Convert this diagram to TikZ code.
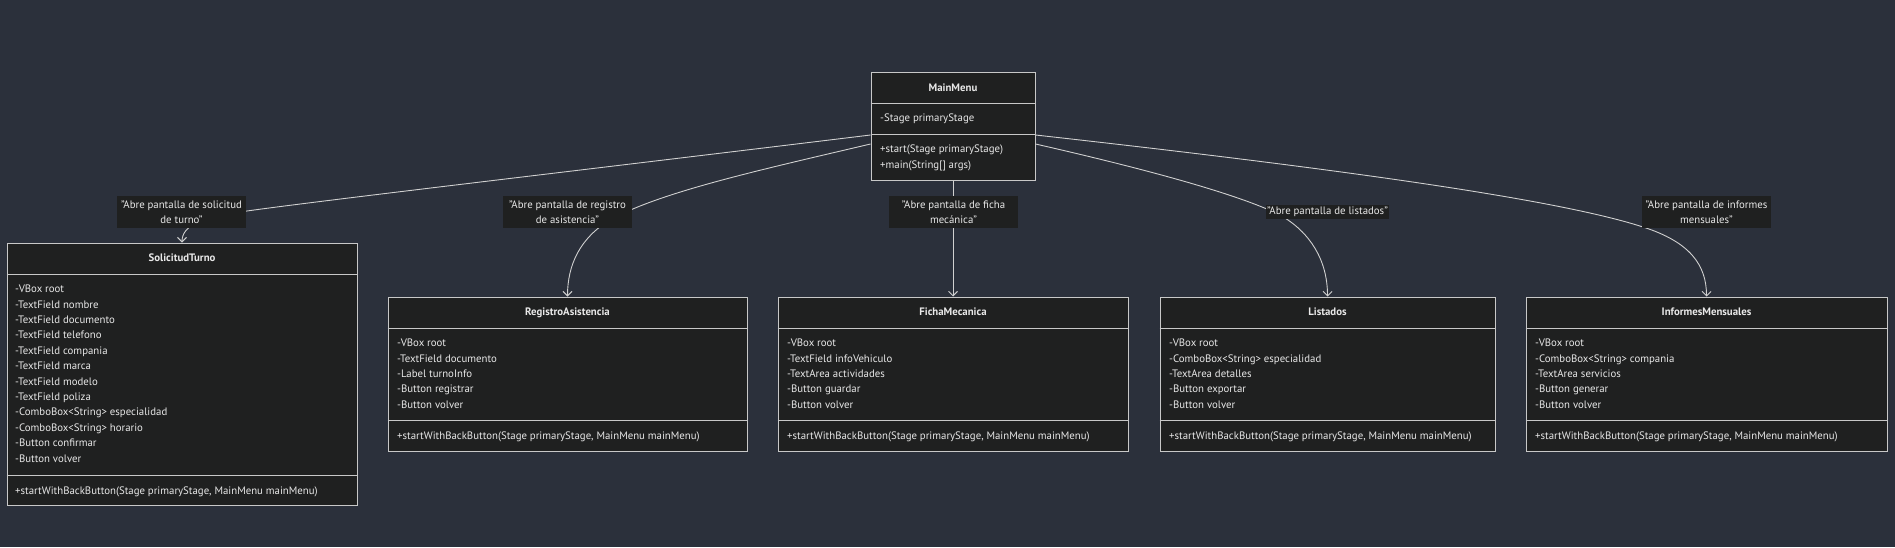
\documentclass[tikz,border=0pt]{standalone}
\usepackage{fontspec}
\setmainfont{PT Sans}
\usetikzlibrary{arrows.meta,calc}
\definecolor{bg}{HTML}{2B303B}
\definecolor{boxfill}{HTML}{1F2020}
\definecolor{boxline}{HTML}{C8C8C8}
\definecolor{edgecol}{HTML}{D0D0D0}
\definecolor{txt}{HTML}{E8E8E8}
\begin{document}
\begin{tikzpicture}[x=1pt,y=-1pt,
  umlbox/.style={draw=boxline, fill=boxfill, line width=1pt, inner sep=0pt},
  divider/.style={draw=boxline, line width=1pt},
  cltitle/.style={text=txt, font=\fontsize{10.8}{13}\selectfont\bfseries, inner sep=0pt, text height=8pt, text depth=2.5pt},
  clitem/.style={text=txt, font=\fontsize{10.8}{13}\selectfont, anchor=west, inner sep=0pt, text height=8pt, text depth=2.5pt},
  edge/.style={draw=edgecol, line width=0.9pt, -{Straight Barb[length=4.5pt,width=9pt]}},
  elabel/.style={fill=boxfill, text=txt, font=\fontsize{10.8}{15}\selectfont, align=center, inner sep=0pt, minimum width=129pt, minimum height=32pt},
]
\fill[bg] (0,0) rectangle (1895,547);
\useasboundingbox (0,0) rectangle (1895,547);

% ---------- MainMenu
\node[umlbox, minimum width=164pt, minimum height=108pt] (mainmenu) at (953,126) {};
\draw[divider] (mainmenu.west |- 0,103) -- (mainmenu.east |- 0,103);
\draw[divider] (mainmenu.west |- 0,134) -- (mainmenu.east |- 0,134);
\node[cltitle] (mainmenu-t) at (953,89) {MainMenu};
\node[clitem] (mainmenu-a0) at (880,119) {-Stage primaryStage};
\node[clitem] (mainmenu-m0) at (880,150) {+start(Stage primaryStage)};
\node[clitem] (mainmenu-m1) at (880,166) {+main(String[] args)};

% ---------- SolicitudTurno
\node[umlbox, minimum width=350pt, minimum height=262pt] (solicitud) at (182,374) {};
\draw[divider] (solicitud.west |- 0,274) -- (solicitud.east |- 0,274);
\draw[divider] (solicitud.west |- 0,475) -- (solicitud.east |- 0,475);
\node[cltitle] (solicitud-t) at (182,259) {SolicitudTurno};
\foreach \t [count=\i from 0] in {-VBox root,-TextField nombre,-TextField documento,-TextField telefono,-TextField compania,-TextField marca,-TextField modelo,-TextField poliza,-ComboBox<String> especialidad,-ComboBox<String> horario,-Button confirmar,-Button volver}
  \node[clitem] (solicitud-a\i) at (15,{290+15.4*\i}) {\t};
\node[clitem] (solicitud-m0) at (15,492) {+startWithBackButton(Stage primaryStage, MainMenu mainMenu)};

% ---------- RegistroAsistencia
\node[umlbox, minimum width=359pt, minimum height=154pt] (registro) at (567.5,374) {};
\draw[divider] (registro.west |- 0,328) -- (registro.east |- 0,328);
\draw[divider] (registro.west |- 0,420) -- (registro.east |- 0,420);
\node[cltitle] (registro-t) at (567.5,313) {RegistroAsistencia};
\foreach \t [count=\i from 0] in {-VBox root,-TextField documento,-Label turnoInfo,-Button registrar,-Button volver}
  \node[clitem] (registro-a\i) at (397,{344+15.4*\i}) {\t};
\node[clitem] (registro-m0) at (397,437) {+startWithBackButton(Stage primaryStage, MainMenu mainMenu)};

% ---------- FichaMecanica
\node[umlbox, minimum width=350pt, minimum height=154pt] (ficha) at (953,374) {};
\draw[divider] (ficha.west |- 0,328) -- (ficha.east |- 0,328);
\draw[divider] (ficha.west |- 0,420) -- (ficha.east |- 0,420);
\node[cltitle] (ficha-t) at (953,313) {FichaMecanica};
\foreach \t [count=\i from 0] in {-VBox root,-TextField infoVehiculo,-TextArea actividades,-Button guardar,-Button volver}
  \node[clitem] (ficha-a\i) at (787,{344+15.4*\i}) {\t};
\node[clitem] (ficha-m0) at (787,437) {+startWithBackButton(Stage primaryStage, MainMenu mainMenu)};

% ---------- Listados
\node[umlbox, minimum width=335pt, minimum height=154pt] (listados) at (1327.5,374) {};
\draw[divider] (listados.west |- 0,328) -- (listados.east |- 0,328);
\draw[divider] (listados.west |- 0,420) -- (listados.east |- 0,420);
\node[cltitle] (listados-t) at (1327.5,313) {Listados};
\foreach \t [count=\i from 0] in {-VBox root,-ComboBox<String> especialidad,-TextArea detalles,-Button exportar,-Button volver}
  \node[clitem] (listados-a\i) at (1169,{344+15.4*\i}) {\t};
\node[clitem] (listados-m0) at (1169,437) {+startWithBackButton(Stage primaryStage, MainMenu mainMenu)};

% ---------- InformesMensuales
\node[umlbox, minimum width=361pt, minimum height=154pt] (informes) at (1706.5,374) {};
\draw[divider] (informes.west |- 0,328) -- (informes.east |- 0,328);
\draw[divider] (informes.west |- 0,420) -- (informes.east |- 0,420);
\node[cltitle] (informes-t) at (1706.5,313) {InformesMensuales};
\foreach \t [count=\i from 0] in {-VBox root,-ComboBox<String> compania,-TextArea servicios,-Button generar,-Button volver}
  \node[clitem] (informes-a\i) at (1535,{344+15.4*\i}) {\t};
\node[clitem] (informes-m0) at (1535,437) {+startWithBackButton(Stage primaryStage, MainMenu mainMenu)};

% ---------- connectors
\draw[edge] (mainmenu.west |- 0,135) .. controls (600,168) and (300,203) .. (240,212) .. controls (200,218) and (182,226) .. (solicitud.north);
\draw[edge] (mainmenu.west |- 0,144) .. controls (760,170) and (660,192) .. (610,220) .. controls (580,238) and (567.5,265) .. (registro.north);
\draw[edge] (mainmenu.south) -- (ficha.north);
\draw[edge] (mainmenu.east |- 0,144) .. controls (1150,170) and (1240,195) .. (1280,215) .. controls (1310,232) and (1327.5,260) .. (listados.north);
\draw[edge] (mainmenu.east |- 0,135) .. controls (1350,170) and (1560,200) .. (1643,227) .. controls (1690,242) and (1706.5,265) .. (informes.north);

% ---------- edge labels
\node[elabel] (lbl-solicitud) at (181.5,212) {"Abre pantalla de solicitud\\de turno"};
\node[elabel] (lbl-registro) at (567.5,212) {"Abre pantalla de registro\\de asistencia"};
\node[elabel] (lbl-ficha) at (953.5,212) {"Abre pantalla de ficha\\mecánica"};
\node[elabel, minimum width=0pt, minimum height=14pt, inner xsep=1pt] (lbl-listados) at (1327.5,212) {"Abre pantalla de listados"};
\node[elabel] (lbl-informes) at (1706.5,212) {"Abre pantalla de informes\\mensuales"};
\end{tikzpicture}
\end{document}
